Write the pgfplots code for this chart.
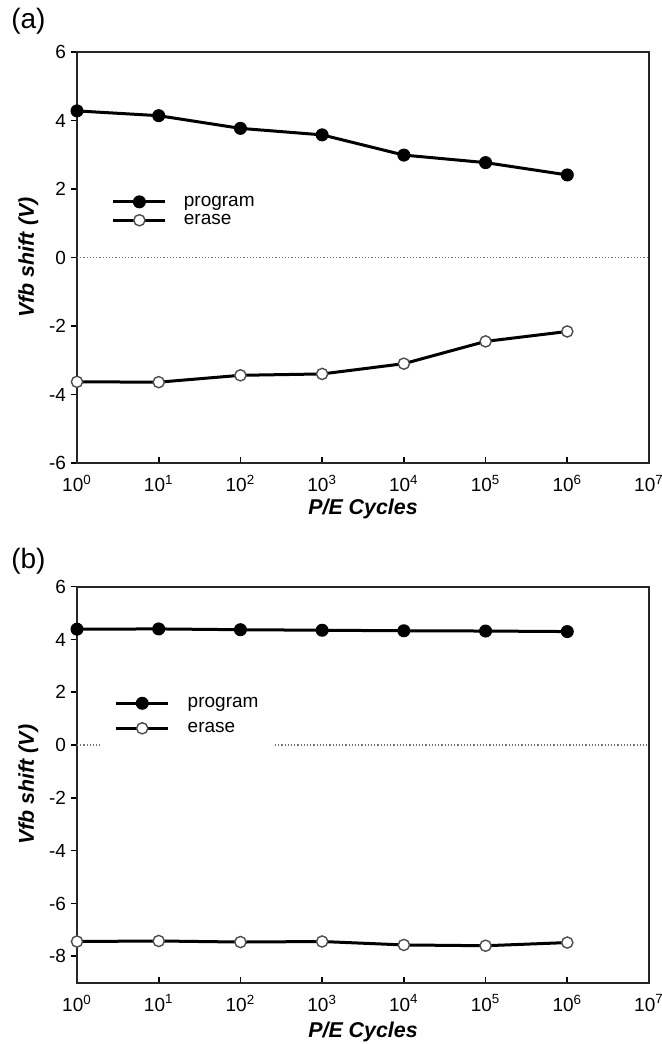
\documentclass[border=0pt]{standalone}
\usepackage{fontspec}
\setmainfont{Liberation Sans}
\usepackage{pgfplots}
\usepackage{pgfplotstable}
\pgfplotsset{compat=1.18}

\pgfplotstableread{
x prog erase
1 4.28 -3.63
10 4.14 -3.64
100 3.77 -3.44
1000 3.58 -3.40
10000 2.99 -3.10
100000 2.77 -2.45
1000000 2.41 -2.16
}\dataA
\pgfplotstableread{
x prog erase
1 4.39 -7.44
10 4.40 -7.42
100 4.37 -7.46
1000 4.35 -7.44
10000 4.33 -7.57
100000 4.32 -7.60
1000000 4.30 -7.48
}\dataB

\pgfplotsset{
 legend image code/.code={\draw[mark repeat=2,mark phase=2,#1] plot coordinates {(0pt,0pt) (13pt,0pt) (26pt,0pt)};},
 progstyle/.style={black, line width=1.5pt, mark=*, mark size=3pt, mark options={fill=black, line width=0.5pt}},
 erasstyle/.style={black, line width=1.5pt, mark=*, mark size=2.8pt, mark options={fill=white, draw=black!70, line width=0.7pt}},
 zerostyle/.style={black!55, densely dotted, line width=0.6pt},
}

\begin{document}
\begin{tikzpicture}
\path[use as bounding box] (0,0) rectangle (331pt,522pt);
\begin{axis}[
  xmode=log, xmin=1, xmax=1e7,
  width=286pt, scale only axis, clip=false,
  xtick={1,10,100,1000,10000,100000,1000000,10000000},
  xticklabels={10\textsuperscript{0},10\textsuperscript{1},10\textsuperscript{2},10\textsuperscript{3},10\textsuperscript{4},10\textsuperscript{5},10\textsuperscript{6},10\textsuperscript{7}},
  xminorticks=false, yminorticks=false,
  xtick pos=bottom, ytick pos=left,
  tick align=inside,
  major tick length=3pt,
  axis line style={line width=0.9pt, black!85},
  tick style={line width=0.8pt, black},
  ytick style={xshift=-3pt},
  /pgf/number format/assume math mode=true,
  tick label style={font=\fontsize{9.5}{11}\selectfont},
  xticklabel style={yshift=-2.5pt},
  yticklabel style={xshift=-2pt},
  xlabel={\textbf{\textit{P/E Cycles}}},
  ylabel={\textbf{\textit{Vfb shift (V)}}},
  label style={font=\fontsize{10.7}{12}\selectfont},
  ylabel style={at={(axis description cs:-0.085,0.5)}, anchor=center},
  legend cell align=left,
  at={(38.5pt,290.5pt)}, anchor=south west, height=205.5pt,
  ymin=-6, ymax=6, ytick={-6,-4,...,6},
  xlabel style={at={(axis description cs:0.5,-0.113)}, anchor=center},
  legend style={draw=none, fill=none, inner sep=0pt, outer sep=0pt,
    font=\fontsize{9.5}{11}\selectfont,
    nodes={inner sep=0pt, text height=6.5pt, text depth=2pt},
    /tikz/every odd column/.append style={column sep=8.5pt},
    at={(axis description cs:0.061,0.613)}, anchor=west, /tikz/row sep=0.7pt}]
\addplot[zerostyle, forget plot] coordinates {(1,0) (1e7,0)};
\addplot[progstyle] table[x=x,y=prog] {\dataA};
\addplot[erasstyle] table[x=x,y=erase] {\dataA};
\legend{program, erase}
\node[font=\fontsize{14}{16}\selectfont] at (axis description cs:-0.085,1.074) {(a)};
\end{axis}
\begin{axis}[
  xmode=log, xmin=1, xmax=1e7,
  width=286pt, scale only axis, clip=false,
  xtick={1,10,100,1000,10000,100000,1000000,10000000},
  xticklabels={10\textsuperscript{0},10\textsuperscript{1},10\textsuperscript{2},10\textsuperscript{3},10\textsuperscript{4},10\textsuperscript{5},10\textsuperscript{6},10\textsuperscript{7}},
  xminorticks=false, yminorticks=false,
  xtick pos=bottom, ytick pos=left,
  tick align=inside,
  major tick length=3pt,
  axis line style={line width=0.9pt, black!85},
  tick style={line width=0.8pt, black},
  ytick style={xshift=-3pt},
  /pgf/number format/assume math mode=true,
  tick label style={font=\fontsize{9.5}{11}\selectfont},
  xticklabel style={yshift=-2.5pt},
  yticklabel style={xshift=-2pt},
  xlabel={\textbf{\textit{P/E Cycles}}},
  ylabel={\textbf{\textit{Vfb shift (V)}}},
  label style={font=\fontsize{10.7}{12}\selectfont},
  ylabel style={at={(axis description cs:-0.085,0.5)}, anchor=center},
  legend cell align=left,
  at={(38.5pt,30.65pt)}, anchor=south west, height=198pt,
  ymin=-9, ymax=6, ytick={-8,-6,...,6},
  xlabel style={at={(axis description cs:0.5,-0.125)}, anchor=center},
  legend style={draw=none, fill=none, inner sep=0pt, outer sep=0pt,
    font=\fontsize{9.5}{11}\selectfont,
    nodes={inner sep=0pt, text height=6.5pt, text depth=2pt},
    /tikz/every odd column/.append style={column sep=9pt},
    at={(axis description cs:0.066,0.674)}, anchor=west, /tikz/row sep=4pt}]
\addplot[zerostyle, forget plot] coordinates {(1,0) (1.9,0)};
\addplot[zerostyle, forget plot] coordinates {(265,0) (1e7,0)};
\addplot[progstyle] table[x=x,y=prog] {\dataB};
\addplot[erasstyle] table[x=x,y=erase] {\dataB};
\legend{program, erase}
\node[font=\fontsize{14}{16}\selectfont] at (axis description cs:-0.085,1.065) {(b)};
\end{axis}
\end{tikzpicture}
\end{document}
